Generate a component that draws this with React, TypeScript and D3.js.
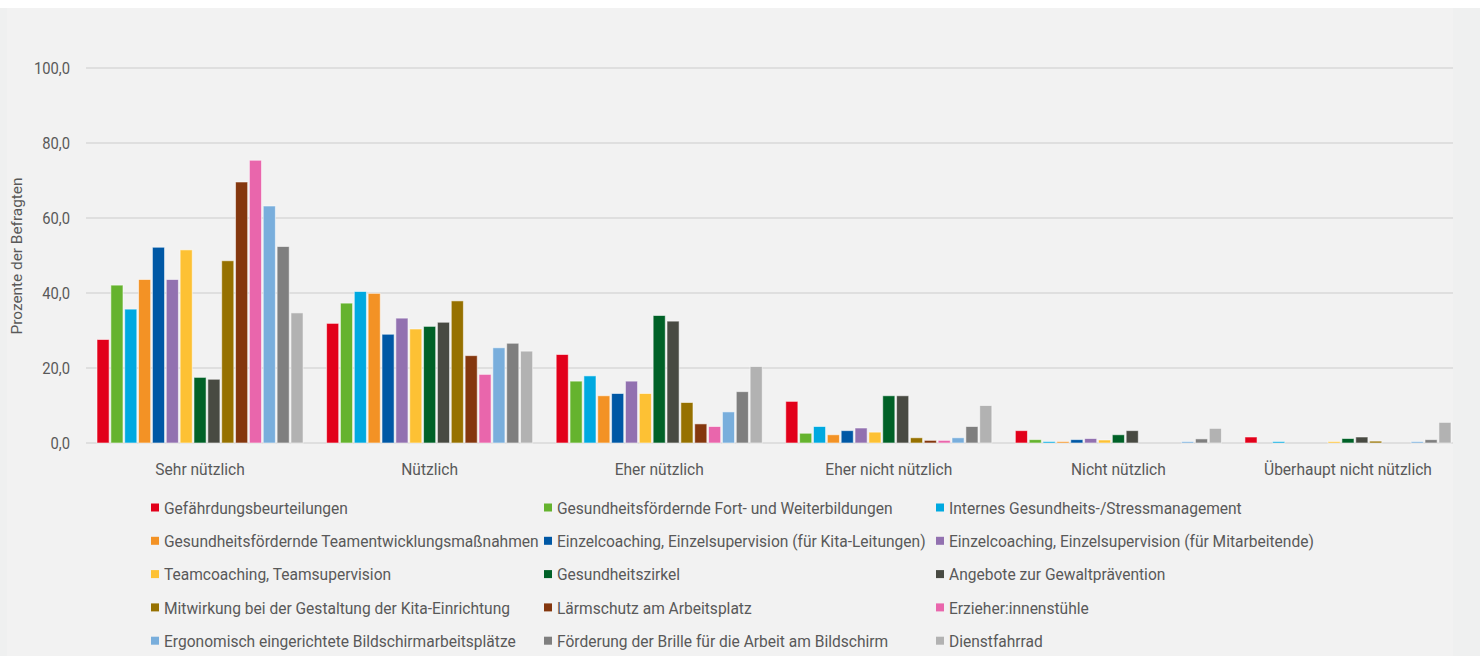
import { useEffect, useRef } from 'react'
import * as d3 from 'd3'

const categories = [
  'Sehr nützlich',
  'Nützlich',
  'Eher nützlich',
  'Eher nicht nützlich',
  'Nicht nützlich',
  'Überhaupt nicht nützlich',
]

const seriesNames = [
  'Gefährdungsbeurteilungen',
  'Gesundheitsfördernde Fort- und Weiterbildungen',
  'Internes Gesundheits-/Stressmanagement',
  'Gesundheitsfördernde Teamentwicklungsmaßnahmen',
  'Einzelcoaching, Einzelsupervision (für Kita-Leitungen)',
  'Einzelcoaching, Einzelsupervision (für Mitarbeitende)',
  'Teamcoaching, Teamsupervision',
  'Gesundheitszirkel',
  'Angebote zur Gewaltprävention',
  'Mitwirkung bei der Gestaltung der Kita-Einrichtung',
  'Lärmschutz am Arbeitsplatz',
  'Erzieher:innenstühle',
  'Ergonomisch eingerichtete Bildschirmarbeitsplätze',
  'Förderung der Brille für die Arbeit am Bildschirm',
  'Dienstfahrrad',
]

const seriesColors = [
  '#e2001a', '#65b32e', '#00a9e0', '#f39225', '#0058a5',
  '#9271b0', '#fdc134', '#006127', '#484a42', '#967100',
  '#84370e', '#e966ac', '#79aedc', '#7f7f7f', '#b2b2b2',
]

// one row per series, one value per category (percent)
const values: number[][] = [
  [27.6, 31.9, 23.6, 11.1, 3.3, 1.6],
  [42.1, 37.3, 16.5, 2.6, 0.9, 0],
  [35.7, 40.4, 17.9, 4.4, 0.4, 0.4],
  [43.6, 39.9, 12.6, 2.2, 0.4, 0],
  [52.2, 29.0, 13.2, 3.3, 0.9, 0],
  [43.6, 33.3, 16.5, 4.0, 1.2, 0],
  [51.5, 30.4, 13.2, 2.9, 0.8, 0.4],
  [17.5, 31.1, 34.0, 12.6, 2.2, 1.2],
  [17.0, 32.2, 32.5, 12.6, 3.3, 1.6],
  [48.6, 37.9, 10.8, 1.4, 0, 0.5],
  [69.6, 23.3, 5.1, 0.7, 0, 0],
  [75.4, 18.3, 4.4, 0.7, 0, 0],
  [63.2, 25.4, 8.3, 1.4, 0.4, 0.4],
  [52.4, 26.6, 13.7, 4.4, 1.1, 0.9],
  [34.7, 24.5, 20.4, 10.0, 3.9, 5.5],
]

const yTicks = [0, 20, 40, 60, 80, 100]

const W = 1483
const H = 656
const FONT = 'Roboto, "Noto Sans", sans-serif'
const TEXT = '#595959'

export default function App() {
  const svgRef = useRef<SVGSVGElement>(null)

  useEffect(() => {
    document.body.style.margin = '0'
    if (!svgRef.current) return
    const svg = d3.select(svgRef.current)
    svg.selectAll('*').remove()

    // the original uses a narrow, tall face; squeeze a regular one to the same width
    const probe = svg
      .append('text')
      .style('font-family', FONT)
      .style('font-size', '17px')
      .text('Gefährdungsbeurteilungen')
    const measured = (probe.node() as SVGTextElement).getComputedTextLength() || 200
    probe.remove()
    const sx = 184 / measured

    // panel background
    svg.append('rect').attr('width', W).attr('height', H).attr('fill', '#ffffff')
    svg.append('rect').attr('x', 0).attr('y', 8).attr('width', 1480).attr('height', 648).attr('fill', '#eff0f0')
    svg.append('rect').attr('x', 7).attr('y', 8).attr('width', 1446).attr('height', 648).attr('fill', '#f2f2f2')

    const gridLeft = 86
    const gridRight = 1453

    const x0 = d3.scaleBand<string>().domain(categories).range([97, 1451]).paddingInner(0.1024).paddingOuter(0)
    const x1 = d3
      .scaleBand<number>()
      .domain(d3.range(seriesNames.length))
      .range([0, x0.bandwidth()])
      .paddingInner(0.125)
      .paddingOuter(0)
    const y = d3.scaleLinear().domain([0, 100]).range([443, 68])

    // gridlines
    svg
      .append('g')
      .selectAll('line')
      .data(yTicks)
      .join('line')
      .attr('x1', gridLeft)
      .attr('x2', gridRight)
      .attr('y1', (d) => y(d))
      .attr('y2', (d) => y(d))
      .attr('stroke', '#d9d9d9')
      .attr('stroke-width', 1.5)

    // y tick labels
    svg
      .append('g')
      .selectAll('text')
      .data(yTicks)
      .join('text')
      .attr('transform', (d) => `translate(70,${y(d)}) scale(${sx * 0.95},1)`)
      .attr('dy', '0.36em')
      .attr('text-anchor', 'end')
      .attr('fill', TEXT)
      .style('font-family', FONT)
      .style('font-size', '17px')
      .text((d) => d3.format('.1f')(d).replace('.', ','))

    // y axis title
    svg
      .append('text')
      .attr('transform', `translate(22,256) rotate(-90) scale(${sx * 1.12},1)`)
      .attr('text-anchor', 'middle')
      .attr('fill', TEXT)
      .style('font-family', FONT)
      .style('font-size', '15px')
      .text('Prozente der Befragten')

    // bars
    const groups = svg
      .append('g')
      .selectAll('g')
      .data(categories)
      .join('g')
      .attr('transform', (c) => `translate(${x0(c)},0)`)

    groups
      .selectAll('rect')
      .data((c, ci) => seriesNames.map((_, si) => ({ si, v: values[si][ci] })))
      .join('rect')
      .filter((d) => d.v > 0)
      .attr('x', (d) => x1(d.si)!)
      .attr('width', x1.bandwidth())
      .attr('y', (d) => y(d.v))
      .attr('height', (d) => y(0) - y(d.v))
      .attr('fill', (d) => seriesColors[d.si])
      .attr('stroke', 'rgba(255,255,255,0.55)')
      .attr('stroke-width', 1)

    // category labels
    svg
      .append('g')
      .selectAll('text')
      .data(categories)
      .join('text')
      .attr('transform', (c) => `translate(${x0(c)! + x0.bandwidth() / 2},469) scale(${sx},1)`)
      .attr('dy', '0.36em')
      .attr('text-anchor', 'middle')
      .attr('fill', TEXT)
      .style('font-family', FONT)
      .style('font-size', '17px')
      .text((c) => c)

    // legend: three columns, row-major
    const colX = [164, 557, 949]
    const legend = svg
      .append('g')
      .selectAll('g')
      .data(seriesNames)
      .join('g')
      .attr('transform', (_, i) => `translate(${colX[i % 3]},${507.5 + Math.floor(i / 3) * 33.3})`)

    legend
      .append('rect')
      .attr('x', -13)
      .attr('y', -4)
      .attr('width', 8)
      .attr('height', 8)
      .attr('fill', (_, i) => seriesColors[i])

    legend
      .append('text')
      .attr('transform', `scale(${sx},1)`)
      .attr('dy', '0.36em')
      .attr('fill', TEXT)
      .style('font-family', FONT)
      .style('font-size', '17px')
      .text((d) => d)
  }, [])

  return <svg ref={svgRef} width={W} height={H} style={{ display: 'block' }} />
}
